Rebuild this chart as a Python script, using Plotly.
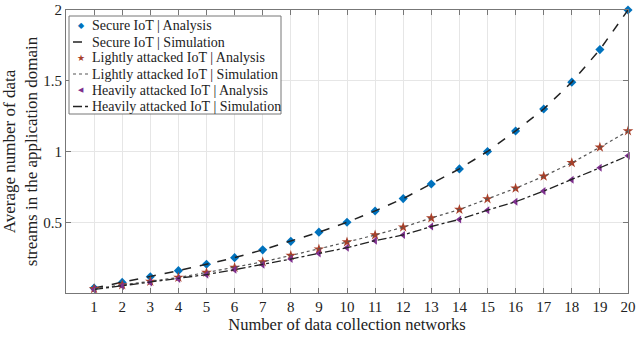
import plotly.graph_objects as go

networks = list(range(1, 21))
secure_analysis = [0.035, 0.075, 0.115, 0.158, 0.203, 0.25, 0.305, 0.365, 0.43, 0.50,
                   0.58, 0.667, 0.77, 0.877, 1.0, 1.145, 1.30, 1.49, 1.72, 2.0]
secure_sim = [0.035, 0.075, 0.115, 0.158, 0.203, 0.25, 0.305, 0.365, 0.43, 0.50,
              0.58, 0.667, 0.77, 0.877, 1.0, 1.145, 1.30, 1.49, 1.72, 2.0]
light_analysis = [0.03, 0.057, 0.082, 0.11, 0.145, 0.18, 0.22, 0.265, 0.31, 0.36,
                  0.41, 0.465, 0.53, 0.59, 0.665, 0.74, 0.825, 0.92, 1.03, 1.145]
light_sim = [0.03, 0.057, 0.082, 0.11, 0.145, 0.18, 0.22, 0.265, 0.31, 0.36,
             0.41, 0.465, 0.53, 0.59, 0.665, 0.74, 0.825, 0.92, 1.03, 1.145]
heavy_analysis = [0.025, 0.05, 0.075, 0.10, 0.13, 0.165, 0.20, 0.24, 0.28, 0.32,
                  0.37, 0.41, 0.47, 0.52, 0.585, 0.645, 0.72, 0.80, 0.885, 0.97]
heavy_sim = [0.025, 0.05, 0.075, 0.10, 0.13, 0.165, 0.20, 0.24, 0.28, 0.32,
             0.37, 0.41, 0.47, 0.52, 0.585, 0.645, 0.72, 0.80, 0.885, 0.97]
y_ticks = [0.5, 1, 1.5, 2]
y_tick_labels = ["0.5", "1", "1.5", "2"]
legend_labels = ["Secure IoT | Analysis", "Secure IoT | Simulation",
                 "Lightly attacked IoT | Analysis", "Lightly attacked IoT | Simulation",
                 "Heavily attacked IoT | Analysis", "Heavily attacked IoT | Simulation"]

font_family = "Liberation Serif, Times New Roman, serif"
W, H = 637, 341
ML, MR, MT, MB = 66, 9, 10, 48
PW, PH = W - ML - MR, H - MT - MB

BLUE, RED, PURPLE = "#0072BD", "#A8402A", "#7E2F8E"

styles = [
    dict(kind="marker", symbol="diamond", size=7, color=BLUE, glyph="◆", gsize=8),
    dict(kind="line", color="#222222", width=1.5, dash="dash"),
    dict(kind="marker", symbol="star", size=8, color=RED, glyph="★", gsize=9),
    dict(kind="line", color="#555555", width=1.2, dash="dot"),
    dict(kind="marker", symbol="triangle-left", size=7, color=PURPLE, glyph="◀", gsize=7),
    dict(kind="line", color="#222222", width=1.3, dash="dashdot"),
]
series = [secure_analysis, secure_sim, light_analysis, light_sim, heavy_analysis, heavy_sim]

fig = go.Figure()
for name, ys, st in zip(legend_labels, series, styles):
    if st["kind"] == "marker":
        fig.add_trace(go.Scatter(x=networks, y=ys, mode="markers", name=name, cliponaxis=False,
                                 marker=dict(symbol=st["symbol"], size=st["size"], color=st["color"])))
    else:
        fig.add_trace(go.Scatter(x=networks, y=ys, mode="lines", name=name,
                                 line=dict(color=st["color"], width=st["width"], dash=st["dash"])))


def px_x(px):
    return (px - ML) / PW


def px_y(py):
    return (H - MB - py) / PH


# Compact legend box (MATLAB-style)
shapes = [dict(type="rect", xref="paper", yref="paper",
               x0=px_x(69), x1=px_x(281), y0=px_y(114), y1=px_y(16),
               fillcolor="white", line=dict(color="#777", width=1), layer="above")]
annotations = []
row_y = [26, 42, 58, 74, 90, 106.5]
for label, st, ry in zip(legend_labels, styles, row_y):
    if st["kind"] == "marker":
        annotations.append(dict(xref="paper", yref="paper", x=px_x(81), y=px_y(ry),
                                text=st["glyph"], showarrow=False, xanchor="center", yanchor="middle",
                                font=dict(size=st["gsize"], color=st["color"], family="DejaVu Sans")))
    else:
        shapes.append(dict(type="line", xref="paper", yref="paper",
                           x0=px_x(73), x1=px_x(89.5), y0=px_y(ry), y1=px_y(ry),
                           line=dict(color=st["color"], width=st["width"], dash=st["dash"]),
                           layer="above"))
    annotations.append(dict(xref="paper", yref="paper", x=px_x(89.5), y=px_y(ry),
                            text=label, showarrow=False, xanchor="left", yanchor="middle",
                            font=dict(size=14, color="#222", family=font_family)))

fig.update_layout(
    width=W, height=H,
    margin=dict(l=ML, r=MR, t=MT, b=MB),
    paper_bgcolor="white", plot_bgcolor="white",
    font=dict(family=font_family, size=14, color="#222"),
    showlegend=False,
    shapes=shapes, annotations=annotations,
)
fig.update_xaxes(range=[0, 20], tickvals=networks, ticktext=[str(n) for n in networks],
                 showgrid=True, gridcolor="#e6e6e6", gridwidth=1,
                 showline=True, linecolor="#777", linewidth=1, mirror="ticks",
                 ticks="inside", ticklen=5, tickcolor="#777", zeroline=False,
                 tickfont=dict(size=15), ticklabeloverflow="allow",
                 title=dict(text="Number of data collection networks", font=dict(size=16.5), standoff=2),
                 automargin=False)
fig.update_yaxes(range=[0, 2], tickvals=y_ticks, ticktext=y_tick_labels,
                 showgrid=True, gridcolor="#e6e6e6", gridwidth=1,
                 showline=True, linecolor="#777", linewidth=1, mirror="ticks",
                 ticks="inside", ticklen=5, tickcolor="#777", zeroline=False,
                 tickfont=dict(size=15), ticklabeloverflow="allow",
                 title=dict(text="Average number of data<br>streams in the application domain",
                            font=dict(size=17), standoff=1),
                 automargin=False)

fig.write_html("out.html", config={"displayModeBar": False},
               post_script="document.body.style.margin='0';document.body.style.overflow='hidden';")
